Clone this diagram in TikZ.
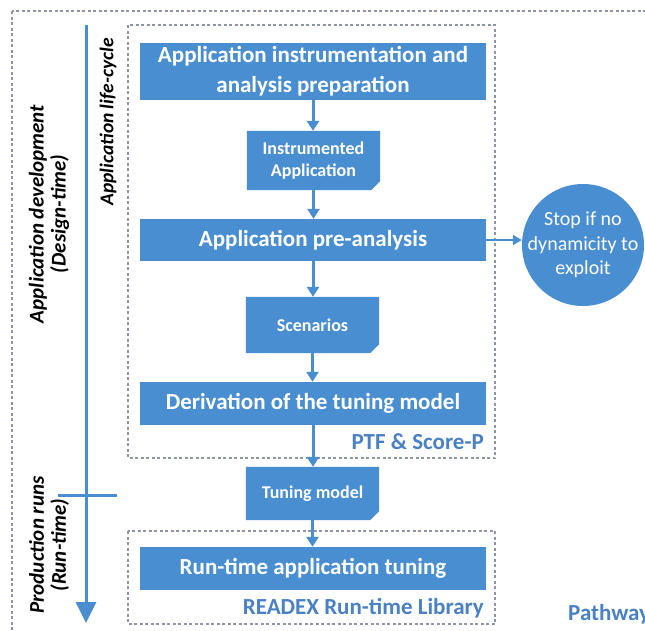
\documentclass[tikz,border=0pt]{standalone}
\usepackage{fontspec}
\setmainfont{Carlito}
\usetikzlibrary{arrows.meta,backgrounds}
\definecolor{boxblue}{HTML}{4A8ED2}
\definecolor{lblblue}{HTML}{4A80C4}
\definecolor{dotgray}{HTML}{8E96A6}
\tikzset{
  bluebox/.style={fill=boxblue, text=white, font=\bfseries\fontsize{23}{30}\selectfont, align=center, inner sep=0pt, minimum width=346pt},
  docbox/.style={text=white, font=\bfseries\fontsize{18}{22}\selectfont, align=center, inner sep=0pt, minimum width=133pt},
  dotbox/.style={draw=dotgray, line width=1.3pt, dash pattern=on 3pt off 2.5pt},
  flow/.style={draw=boxblue, line width=3pt, -{Triangle[length=10pt,width=12pt]}},
  lbl/.style={text=lblblue, font=\bfseries\fontsize{23}{25}\selectfont, inner sep=0pt},
  sidelbl/.style={rotate=90, font=\bfseries\itshape\fontsize{21}{22}\selectfont, align=center, inner sep=0pt},
}
\newcommand{\docshape}[1]{%
  \fill[boxblue] (#1.north west) -- (#1.north east) -- ([yshift=9pt]#1.south east) -- ([xshift=-9pt]#1.south east) -- (#1.south west) -- cycle;}
\begin{document}
\begin{tikzpicture}[x=1pt,y=-1pt]
\useasboundingbox (0,0) rectangle (645,630);
% outer and inner dotted frames
\draw[dotbox] (12,11) rectangle (720,720);
\draw[dotbox] (128,25) rectangle (495,458);
\draw[dotbox] (128,531) rectangle (495,624);
% timeline
\coordinate (tltop) at (86,25);
\coordinate (tlbot) at (86,623);
\coordinate (tickL) at (58,495);
\coordinate (tickR) at (117,495);
\draw[boxblue, line width=3pt, -{Triangle[length=21pt,width=20pt]}] (tltop) -- (tlbot);
\draw[boxblue, line width=3pt] (tickL) -- (tickR);
\node[sidelbl] (dev) at (49,214) {Application development\\(Design-time)};
\node[sidelbl] (prod) at (49,545) {Production runs\\(Run-time)};
\node[sidelbl, font=\bfseries\itshape\fontsize{19.5}{20}\selectfont] (life) at (108,122) {Application life-cycle};
% main boxes
\node[bluebox, minimum height=57pt] (prep) at (313,71) {Application instrumentation and\\analysis preparation};
\node[docbox, minimum height=59pt] (inst) at (313.5,160.5) {Instrumented\\Application};
\node[bluebox, minimum height=42pt] (pre) at (313,240) {Application pre-analysis};
\node[docbox, minimum height=56pt] (scen) at (312.5,325) {Scenarios};
\node[bluebox, minimum height=43pt] (deriv) at (313,403.5) {Derivation of the tuning model};
\node[docbox, minimum height=53pt] (tune) at (312.5,493.5) {Tuning model};
\node[bluebox, minimum height=43pt] (run) at (313,568.5) {Run-time application tuning};
\begin{scope}[on background layer]
\docshape{inst}
\docshape{scen}
\docshape{tune}
\end{scope}
\node[circle, fill=boxblue, minimum size=122pt, inner sep=0pt] (stop) at (583,245) {};
\node[text=white, align=center, inner sep=0pt, font=\fontsize{20}{24.5}\selectfont] (stoptxt) at (stop.center) {Stop if no\\dynamicity to\\exploit};
% labels
\node[lbl, anchor=east] (ptf) at (484,442) {PTF \& Score-P};
\node[lbl, anchor=east] (readex) at (484,608) {READEX Run-time Library};
\node[lbl, anchor=west] (path) at (568,614) {Pathway};
% connectors
\draw[flow] (prep.south) -- (prep.south |- inst.north);
\draw[flow] (inst.south) -- (inst.south |- pre.north);
\draw[flow] (pre.south) -- (pre.south |- scen.north);
\draw[flow] (scen.south) -- (scen.south |- deriv.north);
\draw[flow] (deriv.south) -- (deriv.south |- tune.north);
\draw[flow] (tune.south) -- (tune.south |- run.north);
\draw[boxblue, line width=2pt, -{Triangle[length=9pt,width=10pt]}] (pre.east) -- (pre.east -| stop.west);
\end{tikzpicture}
\end{document}
